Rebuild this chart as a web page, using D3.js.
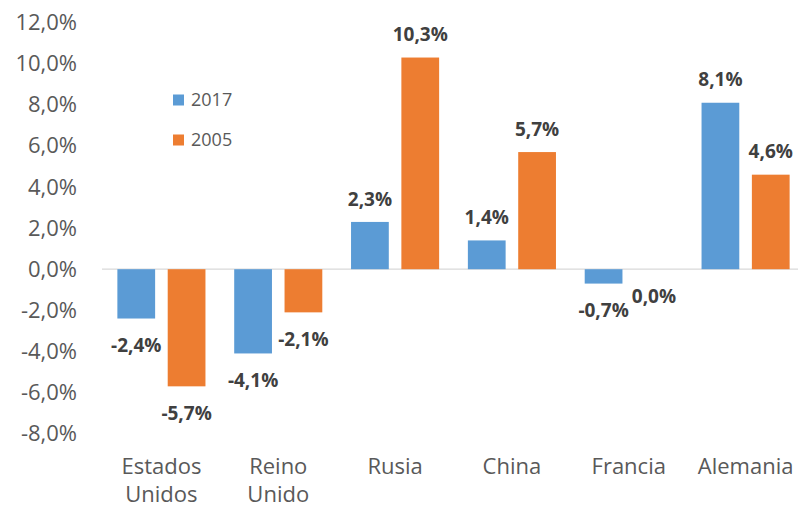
<!DOCTYPE html>
<meta charset="utf-8">
<script src="https://cdn.jsdelivr.net/npm/d3@7/dist/d3.min.js"></script>
<style>
  body { margin: 0; background: #fff; }
  text { font-family: "Open Sans", sans-serif; }
</style>
<div id="js_chart"></div>
<script>

// ******************************************
// data
// ******************************************
const categories = [["Estados", "Unidos"], ["Reino", "Unido"], ["Rusia"], ["China"], ["Francia"], ["Alemania"]];
const seriesNames = ["2017", "2005"];
const values2017 = [-2.4, -4.1, 2.3, 1.4, -0.7, 8.1];
const values2005 = [-5.7, -2.1, 10.3, 5.7, 0.0, 4.6];
const yTicks = [-8, -6, -4, -2, 0, 2, 4, 6, 8, 10, 12];
const colors = ["#5B9BD5", "#ED7D31"];

// ******************************************
function createPlot() {
    let width = 798, height = 509;

    let locale = d3.formatLocale({decimal: ",", thousands: ".", grouping: [3], currency: ["", "€"], minus: "-"});
    let fmt = locale.format(".1f");
    let pct = function (d) { return fmt(d) + "%"; };

    let catKeys = categories.map(function (c) { return c.join(" "); });

    let x0 = d3.scaleBand()
        .domain(catKeys)
        .range([103, 804])
        .paddingInner(0.246)
        .paddingOuter(0.123);

    let x1 = d3.scaleBand()
        .domain(seriesNames)
        .range([0, x0.bandwidth()])
        .paddingInner(0.25);

    let y = d3.scaleLinear()
        .domain([-8, 12])
        .range([433.6, 22.6]);

    let svg = d3.select("#js_chart")
        .append("svg")
        .attr("width", width)
        .attr("height", height);

    // y axis
    let yAxis = svg.append("g")
        .attr("transform", "translate(102,0)")
        .call(d3.axisLeft(y).tickValues(yTicks).tickSize(0).tickPadding(25).tickFormat(pct));
    yAxis.select(".domain").remove();
    yAxis.selectAll("text")
        .attr("fill", "#595959")
        .style("font-family", "'Open Sans', sans-serif")
        .style("font-size", "22px");

    // zero line
    svg.append("line")
        .attr("x1", 102).attr("x2", width)
        .attr("y1", y(0)).attr("y2", y(0))
        .attr("stroke", "#d9d9d9")
        .attr("stroke-width", 1.3);

    let rows = catKeys.map(function (k, i) {
        return {cat: k, vals: [values2017[i], values2005[i]]};
    });

    let groups = svg.selectAll("g.grp")
        .data(rows)
        .enter()
        .append("g")
        .attr("class", "grp")
        .attr("transform", function (d) { return "translate(" + x0(d.cat) + ",0)"; });

    groups.selectAll("rect")
        .data(function (d) { return d.vals.map(function (v, j) { return {s: seriesNames[j], v: v, j: j}; }); })
        .enter()
        .append("rect")
        .attr("x", function (d) { return x1(d.s); })
        .attr("width", x1.bandwidth())
        .attr("y", function (d) { return y(Math.max(0, d.v)); })
        .attr("height", function (d) { return Math.abs(y(d.v) - y(0)); })
        .attr("fill", function (d) { return colors[d.j]; });

    groups.selectAll("text.lbl")
        .data(function (d) { return d.vals.map(function (v, j) { return {s: seriesNames[j], v: v, j: j}; }); })
        .enter()
        .append("text")
        .attr("class", "lbl")
        .attr("x", function (d) { return x1(d.s) + x1.bandwidth() / 2; })
        .attr("y", function (d) { return d.v > 0 ? y(d.v) - 23 : y(d.v) + 27; })
        .attr("dy", "0.35em")
        .attr("text-anchor", "middle")
        .attr("fill", "#404040")
        .style("font-size", "19px")
        .style("font-weight", "bold")
        .text(function (d) { return pct(d.v); });

    // category labels
    let catLabels = svg.selectAll("text.cat")
        .data(categories)
        .enter()
        .append("text")
        .attr("class", "cat")
        .attr("x", function (d) { return x0(d.join(" ")) + x0.bandwidth() / 2; })
        .attr("y", 466)
        .attr("text-anchor", "middle")
        .attr("fill", "#595959")
        .style("font-size", "22px");
    catLabels.selectAll("tspan")
        .data(function (d) { return d; })
        .enter()
        .append("tspan")
        .attr("x", function () { return d3.select(this.parentNode).attr("x"); })
        .attr("dy", function (d, i) { return i === 0 ? "0.35em" : "28px"; })
        .text(function (d) { return d; });

    // legend
    let legend = svg.append("g").attr("transform", "translate(173,100)");
    let items = legend.selectAll("g")
        .data(seriesNames)
        .enter()
        .append("g")
        .attr("transform", function (d, i) { return "translate(0," + (i * 40) + ")"; });
    items.append("rect")
        .attr("x", 0).attr("y", -5.5)
        .attr("width", 11).attr("height", 11)
        .attr("fill", function (d, i) { return colors[i]; });
    items.append("text")
        .attr("x", 18)
        .attr("dy", "0.35em")
        .attr("fill", "#595959")
        .style("font-size", "18px")
        .text(function (d) { return d; });
}

createPlot();
</script>
